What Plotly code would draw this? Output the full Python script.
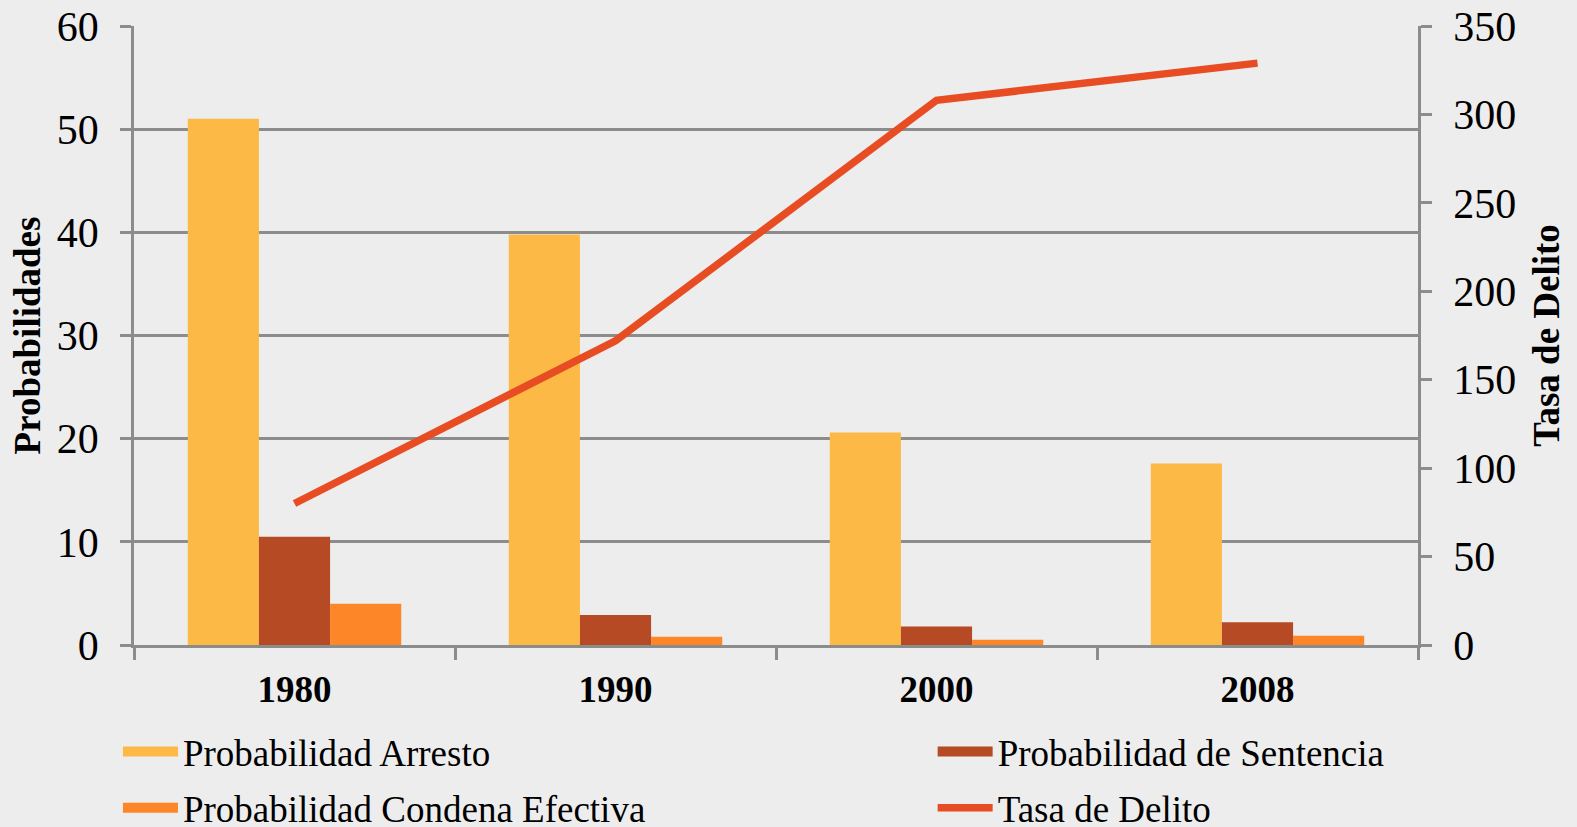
import plotly.graph_objects as go

years = ["1980", "1990", "2000", "2008"]
prob_arresto = [51.0, 39.8, 20.6, 17.6]
prob_sentencia = [10.5, 2.9, 1.8, 2.2]
prob_condena = [4.0, 0.8, 0.5, 0.9]
tasa_delito = [80, 172, 308, 329]

left_ticks = [0, 10, 20, 30, 40, 50, 60]
right_ticks = [0, 50, 100, 150, 200, 250, 300, 350]

FONT = "Liberation Serif, Times New Roman, serif"
GRID = "#8c8c8c"
C_ARR, C_SEN, C_CON, C_TAS = "#FDB945", "#B54A25", "#FD8628", "#E84C22"

fig = go.Figure()
fig.add_trace(go.Bar(x=years, y=prob_arresto, name="Probabilidad Arresto",
                     showlegend=False, marker=dict(color=C_ARR, line=dict(width=0))))
fig.add_trace(go.Bar(x=years, y=prob_sentencia, name="Probabilidad de Sentencia",
                     showlegend=False, marker=dict(color=C_SEN, line=dict(width=0))))
fig.add_trace(go.Bar(x=years, y=prob_condena, name="Probabilidad Condena Efectiva",
                     showlegend=False, marker=dict(color=C_CON, line=dict(width=0))))

# legend-only entries drawn as wide rectangles, like the reference legend keys
for nm, col, lg, grp, rk in [("Probabilidad Arresto", C_ARR, "legend", "a", 1),
                             ("Probabilidad de Sentencia", C_SEN, "legend2", "b", 2),
                             ("Probabilidad Condena Efectiva", C_CON, "legend", "c", 3)]:
    fig.add_trace(go.Scatter(x=[None], y=[None], name=nm, mode="lines",
                             legend=lg, legendgroup=grp, legendrank=rk, hoverinfo="skip",
                             line=dict(color=col, width=20)))

fig.add_trace(go.Scatter(x=years, y=tasa_delito, name="Tasa de Delito", yaxis="y2",
                         legend="legend2", legendgroup="d", legendrank=4,
                         mode="lines", line=dict(color=C_TAS, width=7.5)))

legend_common = dict(orientation="v", yanchor="top", xanchor="left",
                     font=dict(size=37, family=FONT, color="#000"),
                     bgcolor="rgba(0,0,0,0)", itemwidth=55, tracegroupgap=5,
                     traceorder="grouped", borderwidth=0)

fig.update_layout(
    width=1577, height=827,
    margin=dict(l=134, r=159, t=26, b=182, autoexpand=False),
    paper_bgcolor="#ededed", plot_bgcolor="rgba(0,0,0,0)",
    font=dict(family=FONT, color="#000000", size=32),
    barmode="group", bargap=0.335, bargroupgap=0,
    showlegend=True,
    legend=dict(x=-0.0125, y=-0.1228, **legend_common),
    legend2=dict(x=0.622, y=-0.1228, **legend_common),
    xaxis=dict(type="category", tickson="boundaries", ticks="outside", ticklen=12,
               tickwidth=2.5, tickcolor=GRID, showline=True, linecolor=GRID, linewidth=2.5,
               showgrid=False, ticklabelstandoff=10,
               tickfont=dict(size=37, family=FONT, weight="bold")),
    yaxis=dict(range=[0, 60], tickvals=left_ticks, ticks="outside", ticklen=11,
               tickwidth=2.5, tickcolor=GRID, showline=True, linecolor=GRID, linewidth=2.5,
               showgrid=True, gridcolor=GRID, gridwidth=2.5, zeroline=False,
               ticklabelstandoff=13,
               tickfont=dict(size=42, family=FONT),
               title=dict(text="Probabilidades", font=dict(size=37, family=FONT, weight="bold"),
                          standoff=5)),
    yaxis2=dict(range=[0, 350], tickvals=right_ticks, overlaying="y", side="right",
                ticks="outside", ticklen=11, tickwidth=2.5, tickcolor=GRID,
                showline=True, linecolor=GRID, linewidth=2.5, showgrid=False, zeroline=False,
                ticklabelstandoff=13,
                tickfont=dict(size=42, family=FONT),
                title=dict(text="Tasa de Delito", font=dict(size=37, family=FONT, weight="bold"),
                           standoff=18)),
)

fig.write_html("out.html", config={"displayModeBar": False},
               post_script="document.documentElement.style.margin='0px';"
                           "document.body.style.margin='0px';"
                           "document.documentElement.style.overflow='hidden';"
                           "document.body.style.overflow='hidden';")
